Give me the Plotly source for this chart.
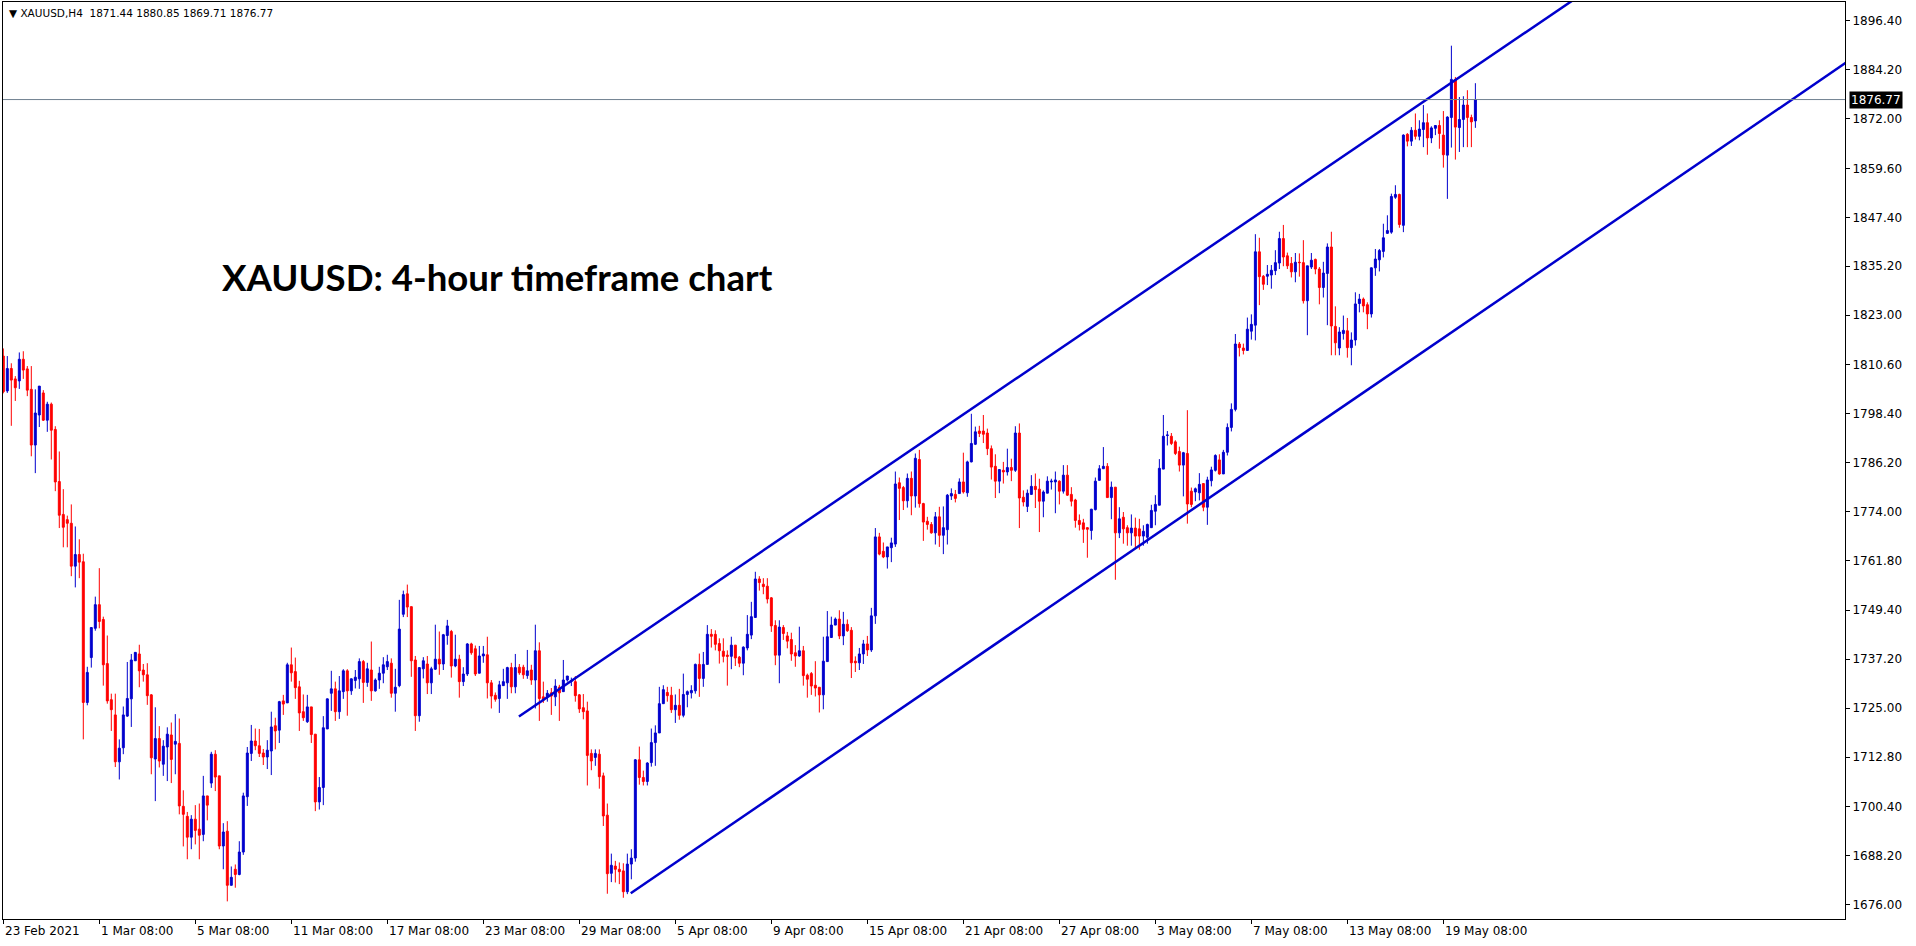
import plotly.graph_objects as go
import pandas as pd

# ---------------- data (XAUUSD H4 candles) ----------------
opens = [
1812.8,1804.1,1809.7,1807.1,1806.6,1812.0,1809.6,1804.5,1790.6,1798.1,
1803.6,1796.8,1800.8,1794.5,1781.5,1773.3,1772.0,1771.1,1760.4,1763.3,
1761.5,1726.4,1737.6,1744.9,1750.8,1747.1,1736.1,1727.1,1723.3,1711.6,
1715.1,1723.0,1727.3,1736.8,1738.5,1734.5,1733.3,1728.3,1712.3,1717.4,
1711.0,1715.3,1718.3,1716.0,1716.2,1700.5,1698.0,1692.8,1697.3,1694.8,
1693.5,1703.1,1706.3,1713.5,1708.1,1690.6,1694.3,1680.8,1684.8,1683.5,
1689.1,1702.9,1713.7,1716.8,1715.6,1713.8,1712.8,1714.3,1720.6,1719.5,
1726.8,1726.3,1735.8,1734.1,1730.3,1724.1,1721.6,1725.3,1718.5,1701.6,
1705.2,1719.8,1728.7,1729.8,1724.1,1729.1,1734.3,1729.3,1731.9,1732.3,
1736.6,1731.4,1734.5,1729.3,1732.0,1733.7,1735.3,1736.2,1728.7,1730.6,
1748.4,1753.5,1750.3,1737.0,1723.1,1734.8,1736.0,1731.3,1734.7,1737.2,
1736.0,1743.1,1744.1,1735.5,1737.2,1731.6,1733.5,1741.0,1739.8,1733.7,
1738.0,1738.3,1731.3,1728.2,1727.4,1730.6,1731.3,1735.1,1730.3,1735.2,
1735.2,1733.1,1734.5,1732.0,1739.3,1727.8,1727.8,1728.8,1727.8,1730.2,
1729.1,1732.0,1731.7,1731.6,1728.3,1725.1,1724.3,1713.7,1712.7,1713.5,
1708.1,1698.3,1683.8,1685.6,1684.8,1684.4,1679.2,1686.1,1687.6,1712.1,
1707.7,1706.7,1711.4,1716.4,1718.8,1726.1,1728.9,1728.2,1724.6,1725.7,
1723.2,1728.4,1728.8,1729.3,1735.9,1732.4,1735.9,1743.4,1743.4,1741.1,
1739.2,1738.2,1737.9,1740.7,1737.7,1736.2,1740.0,1743.2,1747.6,1757.2,
1755.9,1755.4,1752.5,1745.6,1738.2,1745.1,1743.0,1742.1,1738.8,1738.0,
1739.3,1733.2,1733.6,1730.7,1730.2,1728.3,1736.6,1742.6,1745.7,1747.2,
1743.0,1745.9,1744.4,1736.7,1736.3,1738.5,1741.0,1739.5,1748.0,1767.7,
1764.1,1762.7,1765.0,1765.9,1781.2,1780.0,1776.7,1782.3,1777.9,1787.0,
1776.0,1771.6,1770.8,1768.7,1772.7,1768.1,1769.5,1777.9,1778.3,1778.5,
1781.4,1778.7,1786.4,1790.8,1794.1,1794.1,1793.6,1789.7,1785.3,1781.6,
1784.3,1783.9,1785.0,1784.3,1793.6,1777.6,1775.3,1778.3,1780.3,1779.6,
1776.6,1778.6,1781.4,1781.4,1781.6,1779.1,1783.1,1778.3,1776.9,1771.8,
1771.2,1770.0,1769.3,1774.5,1781.8,1784.7,1785.3,1777.5,1780.1,1768.7,
1772.6,1770.0,1768.7,1769.9,1769.7,1767.9,1767.6,1770.0,1774.1,1775.6,
1784.6,1793.0,1792.8,1791.4,1789.0,1785.6,1788.5,1779.1,1778.9,1778.7,
1781.0,1775.1,1781.7,1784.3,1786.9,1783.4,1788.8,1795.0,1799.5,1815.8,
1814.8,1814.2,1819.0,1820.5,1838.8,1832.7,1832.7,1833.0,1834.1,1836.0,
1842.1,1837.8,1835.9,1833.8,1836.2,1836.1,1826.6,1835.0,1836.9,1834.5,
1829.9,1833.4,1840.0,1820.2,1814.8,1818.4,1819.1,1814.9,1816.8,1825.9,
1827.0,1825.6,1823.3,1834.8,1836.8,1838.9,1843.4,1843.7,1852.4,1853.1,
1845.4,1868.1,1866.4,1869.1,1867.6,1869.3,1871.0,1867.2,1869.6,1870.3,
1867.9,1862.9,1872.3,1881.8,1869.8,1871.8,1875.4,1872.3,1871.44]

highs = [
1814.7,1812.8,1811.0,1807.8,1813.7,1814.0,1810.3,1810.3,1804.5,1805.3,
1804.3,1801.4,1801.2,1795.3,1789.0,1779.6,1773.0,1775.8,1770.3,1767.1,
1763.5,1735.3,1745.1,1752.8,1759.9,1747.8,1743.1,1728.6,1728.6,1717.2,
1725.4,1736.5,1738.5,1738.9,1740.8,1736.0,1736.2,1728.5,1725.2,1720.5,
1717.0,1720.2,1721.4,1723.5,1722.4,1704.5,1699.1,1698.3,1700.8,1701.2,
1708.1,1703.1,1714.1,1714.5,1708.1,1696.3,1696.8,1685.5,1686.0,1691.8,
1703.9,1715.3,1720.8,1719.9,1719.8,1714.8,1717.0,1724.1,1722.6,1726.8,
1728.3,1736.3,1740.1,1737.6,1731.8,1728.4,1728.3,1725.3,1718.5,1707.8,
1723.0,1727.4,1734.3,1731.6,1733.0,1734.7,1734.7,1732.4,1734.5,1737.4,
1737.0,1736.3,1741.6,1732.4,1735.3,1737.7,1738.3,1737.4,1734.8,1752.0,
1754.3,1755.8,1750.3,1738.0,1735.1,1737.7,1738.0,1735.3,1745.8,1744.1,
1743.5,1747.0,1744.5,1743.3,1738.3,1735.2,1741.2,1741.3,1740.6,1740.5,
1740.5,1742.8,1732.0,1728.9,1731.8,1734.8,1735.3,1736.3,1738.5,1736.0,
1735.8,1739.5,1735.8,1745.8,1741.4,1731.6,1729.5,1730.0,1732.2,1730.8,
1737.0,1733.0,1732.6,1733.0,1728.5,1728.5,1726.6,1714.7,1714.7,1714.7,
1708.9,1701.2,1688.7,1686.9,1686.5,1686.3,1688.7,1689.8,1712.3,1715.4,
1709.4,1711.5,1719.9,1720.7,1730.3,1730.7,1730.3,1730.3,1728.4,1729.8,
1733.6,1729.4,1730.7,1736.1,1738.6,1739.0,1745.7,1744.7,1744.4,1742.4,
1742.4,1739.4,1742.8,1740.7,1738.0,1740.4,1748.2,1751.5,1759.0,1757.9,
1757.4,1757.4,1752.7,1746.9,1746.9,1745.7,1744.0,1743.8,1740.7,1745.3,
1740.5,1733.6,1734.0,1736.7,1730.2,1742.8,1749.2,1747.8,1747.6,1749.4,
1749.0,1747.1,1745.2,1737.9,1740.0,1742.0,1743.0,1750.0,1769.9,1768.7,
1766.3,1765.2,1767.5,1784.0,1782.5,1780.4,1783.5,1784.0,1788.5,1789.4,
1776.2,1772.7,1771.4,1773.9,1775.2,1775.3,1778.4,1779.8,1779.4,1782.3,
1788.7,1786.7,1798.4,1795.2,1795.4,1798.1,1794.7,1790.5,1788.3,1784.5,
1786.4,1789.7,1787.2,1795.3,1796.0,1779.3,1779.5,1783.1,1783.5,1782.2,
1779.3,1782.8,1782.2,1784.0,1781.8,1785.6,1785.6,1780.1,1777.2,1773.3,
1772.2,1770.1,1774.7,1782.5,1785.6,1790.1,1786.1,1781.5,1780.1,1775.1,
1773.9,1770.6,1773.3,1772.5,1772.2,1770.6,1771.0,1775.7,1778.1,1787.1,
1798.1,1794.1,1793.6,1791.8,1790.2,1788.9,1799.3,1780.0,1780.0,1783.6,
1781.0,1782.7,1785.2,1788.3,1788.3,1789.4,1796.0,1801.0,1818.3,1816.3,
1815.9,1822.4,1823.2,1843.2,1842.3,1833.0,1835.5,1835.5,1839.2,1843.8,
1845.5,1838.6,1837.5,1838.5,1838.4,1841.7,1835.3,1838.5,1837.1,1835.0,
1836.3,1840.9,1843.8,1825.2,1820.0,1822.9,1822.3,1818.7,1828.7,1828.3,
1827.4,1826.2,1834.9,1839.5,1839.5,1845.8,1847.9,1853.3,1855.4,1853.3,
1868.1,1868.4,1869.9,1873.3,1871.6,1875.4,1873.3,1870.1,1870.4,1871.6,
1873.9,1872.6,1890.2,1882.4,1877.4,1877.6,1879.1,1873.0,1880.85]

lows = [
1803.5,1803.6,1795.4,1801.6,1804.6,1807.1,1802.8,1787.8,1783.6,1795.1,
1796.6,1793.9,1787.0,1779.1,1769.9,1765.1,1765.1,1757.9,1755.1,1757.4,
1717.2,1725.7,1735.1,1744.3,1744.9,1730.6,1726.1,1719.3,1710.3,1707.2,
1713.5,1722.8,1720.3,1736.8,1730.2,1731.6,1725.8,1708.5,1701.8,1710.2,
1708.1,1706.8,1706.3,1708.5,1698.5,1690.5,1687.3,1689.8,1691.0,1687.3,
1691.8,1697.0,1705.1,1704.3,1689.8,1684.8,1676.8,1680.8,1680.2,1683.3,
1688.4,1700.6,1711.8,1714.5,1712.8,1710.8,1709.8,1708.3,1714.7,1716.3,
1723.3,1726.3,1731.6,1727.3,1719.3,1721.8,1721.3,1716.3,1699.3,1699.7,
1700.8,1719.8,1724.3,1721.8,1722.3,1727.3,1723.1,1728.3,1729.9,1729.8,
1726.3,1730.3,1726.8,1729.1,1729.8,1731.2,1734.5,1727.6,1724.1,1730.2,
1747.7,1747.7,1732.8,1719.3,1721.6,1732.4,1728.5,1728.5,1734.5,1733.3,
1734.5,1740.8,1732.6,1735.2,1727.6,1730.5,1733.0,1738.3,1733.0,1733.7,
1736.3,1727.4,1724.9,1726.6,1723.8,1730.6,1727.3,1728.7,1728.7,1733.3,
1732.3,1732.3,1730.8,1724.9,1721.8,1726.3,1726.6,1723.3,1725.5,1721.8,
1729.1,1731.6,1730.5,1726.6,1723.8,1722.2,1705.7,1709.5,1710.6,1704.9,
1695.6,1678.7,1681.6,1681.5,1681.1,1677.7,1678.6,1682.3,1686.7,1705.9,
1705.7,1705.7,1710.4,1710.6,1718.8,1726.1,1726.6,1723.8,1721.3,1722.1,
1722.7,1725.2,1727.4,1728.6,1727.8,1730.3,1735.9,1740.1,1739.4,1736.1,
1736.4,1730.6,1734.7,1735.5,1735.2,1733.2,1739.4,1742.2,1747.6,1754.3,
1753.4,1751.1,1744.0,1735.7,1731.2,1742.0,1739.9,1736.8,1735.3,1737.8,
1730.6,1727.6,1728.3,1727.9,1723.9,1724.7,1736.6,1742.6,1745.7,1742.2,
1740.7,1744.0,1732.5,1734.0,1734.5,1736.0,1738.0,1739.0,1746.0,1763.1,
1762.4,1759.8,1761.4,1765.2,1771.9,1774.4,1775.0,1773.1,1775.0,1775.0,
1766.7,1769.5,1768.5,1765.8,1765.2,1763.4,1765.8,1776.9,1776.3,1778.5,
1778.5,1777.7,1786.3,1790.6,1792.6,1791.1,1788.1,1782.0,1777.4,1778.6,
1781.0,1783.0,1781.6,1783.9,1769.9,1775.3,1773.9,1778.3,1774.9,1768.9,
1772.6,1778.6,1779.5,1773.6,1775.8,1778.5,1777.9,1775.3,1770.0,1769.3,
1766.2,1762.5,1767.0,1774.3,1781.8,1784.7,1777.5,1772.1,1757.0,1767.4,
1766.0,1765.5,1765.5,1765.0,1764.5,1765.5,1766.0,1770.0,1770.6,1775.6,
1784.6,1790.5,1790.6,1788.1,1784.0,1777.8,1771.0,1775.1,1776.6,1776.8,
1774.1,1770.7,1780.3,1784.0,1783.2,1783.4,1788.0,1794.0,1799.0,1812.7,
1813.2,1814.2,1816.9,1816.7,1825.5,1829.3,1830.5,1829.6,1833.0,1834.5,
1835.2,1834.5,1832.4,1831.2,1832.6,1825.9,1818.0,1834.5,1833.2,1825.7,
1827.4,1820.5,1813.0,1813.0,1813.0,1816.9,1812.4,1810.5,1815.4,1823.7,
1823.7,1819.5,1822.4,1832.8,1833.9,1837.4,1843.3,1843.3,1852.0,1844.8,
1843.7,1865.1,1865.2,1866.8,1866.6,1864.9,1863.0,1865.9,1867.9,1864.5,
1859.8,1852.0,1864.8,1861.8,1863.7,1864.9,1864.9,1864.9,1869.71]

closes = [
1803.9,1809.7,1806.8,1804.9,1812.0,1809.3,1804.3,1790.6,1798.6,1805.3,
1796.8,1800.8,1794.3,1781.4,1773.1,1770.1,1771.1,1760.4,1763.3,1761.4,
1726.4,1733.9,1745.1,1750.8,1746.6,1735.8,1726.8,1724.6,1711.6,1715.0,
1723.3,1727.4,1737.0,1738.9,1734.3,1733.3,1728.1,1712.6,1717.4,1711.8,
1715.5,1718.5,1712.2,1716.7,1700.6,1698.5,1692.8,1697.3,1694.5,1693.3,
1703.1,1700.8,1713.5,1707.8,1690.6,1694.1,1680.8,1682.8,1683.5,1689.1,
1703.1,1713.8,1716.8,1715.6,1713.7,1712.8,1714.5,1720.3,1719.3,1726.6,
1726.0,1735.8,1733.8,1730.1,1723.8,1722.6,1725.3,1718.4,1701.6,1705.2,
1720.1,1727.3,1729.8,1724.1,1729.3,1734.3,1729.3,1732.3,1732.7,1736.6,
1731.4,1734.8,1729.3,1732.0,1733.7,1735.8,1736.6,1728.7,1730.2,1744.7,
1753.3,1750.2,1736.8,1723.1,1735.1,1736.8,1731.3,1734.8,1737.2,1736.0,
1743.3,1745.5,1735.5,1737.2,1731.6,1733.5,1741.0,1738.8,1733.5,1738.0,
1738.5,1731.3,1728.0,1727.2,1730.8,1731.6,1735.1,1730.3,1735.1,1733.8,
1733.3,1734.3,1732.0,1739.3,1727.4,1727.0,1728.7,1728.0,1730.5,1728.8,
1732.0,1733.0,1731.8,1728.1,1724.8,1724.1,1713.2,1711.8,1713.7,1707.9,
1698.1,1683.7,1685.8,1684.8,1684.2,1679.2,1686.1,1687.6,1712.1,1707.7,
1706.7,1711.3,1716.4,1718.8,1726.1,1729.6,1728.1,1724.6,1725.7,1723.2,
1728.4,1729.1,1729.4,1735.9,1732.4,1735.9,1743.4,1742.9,1740.9,1739.3,
1737.9,1737.9,1740.7,1737.5,1736.2,1740.2,1743.4,1747.8,1757.2,1756.3,
1755.3,1752.2,1745.5,1738.2,1745.2,1743.6,1741.7,1738.5,1738.0,1739.3,
1733.1,1732.2,1730.5,1730.0,1728.3,1736.7,1742.8,1745.7,1747.2,1743.0,
1745.9,1744.3,1736.3,1736.3,1738.5,1741.0,1739.5,1748.0,1767.7,1763.4,
1762.7,1765.2,1766.2,1780.9,1779.8,1776.7,1782.3,1777.9,1787.3,1776.0,
1771.4,1770.8,1768.7,1772.7,1768.1,1770.0,1778.1,1778.5,1777.3,1781.4,
1778.9,1786.4,1791.0,1793.9,1793.5,1793.3,1789.7,1785.1,1781.6,1784.5,
1783.9,1785.0,1784.3,1793.6,1777.4,1776.4,1778.6,1780.3,1779.5,1776.6,
1778.9,1781.6,1781.6,1781.9,1779.1,1783.1,1778.1,1776.6,1771.8,1770.8,
1769.6,1769.6,1774.6,1781.6,1784.7,1785.3,1777.5,1780.1,1768.7,1772.2,
1769.7,1768.7,1769.9,1767.9,1767.9,1769.1,1770.8,1774.3,1775.8,1784.8,
1792.8,1793.1,1791.0,1788.5,1785.6,1788.7,1775.9,1775.8,1779.7,1780.8,
1775.1,1781.9,1784.4,1788.0,1783.4,1788.8,1795.0,1799.5,1815.8,1814.9,
1814.2,1819.5,1820.7,1838.8,1832.6,1830.7,1833.2,1834.2,1836.1,1842.1,
1837.5,1835.3,1833.8,1836.2,1836.1,1826.6,1835.3,1836.7,1834.5,1829.9,
1833.5,1840.0,1820.3,1816.1,1818.8,1819.2,1814.9,1816.8,1825.8,1827.0,
1825.3,1823.3,1834.8,1837.0,1839.1,1842.3,1844.1,1852.6,1853.1,1845.6,
1867.9,1866.4,1869.1,1867.6,1869.4,1871.0,1867.2,1869.7,1870.3,1868.3,
1863.0,1872.4,1881.8,1869.9,1871.8,1875.4,1872.3,1871.2,1876.77]

symbol = "XAUUSD"
period = "H4"
first_bar = "2021-02-23 08:00"
holidays = ["2021-04-02"]

price_ticks = [1896.40, 1884.20, 1872.00, 1859.60, 1847.40, 1835.20, 1823.00,
               1810.60, 1798.40, 1786.20, 1774.00, 1761.80, 1749.40, 1737.20,
               1725.00, 1712.80, 1700.40, 1688.20, 1676.00]

time_label_text = ["23 Feb 2021", "1 Mar 08:00", "5 Mar 08:00", "11 Mar 08:00",
                   "17 Mar 08:00", "23 Mar 08:00", "29 Mar 08:00", "5 Apr 08:00",
                   "9 Apr 08:00", "15 Apr 08:00", "21 Apr 08:00", "27 Apr 08:00",
                   "3 May 08:00", "7 May 08:00", "13 May 08:00", "19 May 08:00"]
time_label_at = ["2021-02-23 08:00", "2021-03-01 08:00", "2021-03-05 08:00",
                 "2021-03-11 08:00", "2021-03-17 08:00", "2021-03-23 08:00",
                 "2021-03-29 08:00", "2021-04-05 08:00", "2021-04-09 08:00",
                 "2021-04-15 08:00", "2021-04-21 08:00", "2021-04-27 08:00",
                 "2021-05-03 08:00", "2021-05-07 08:00", "2021-05-13 08:00",
                 "2021-05-19 08:00"]

# channel anchors (bar position, price)
upper_anchor_x = [128.9, 369.9]
upper_anchor_y = [1722.9, 1886.3]
lower_anchor_x = [156.85, 462.6]
lower_anchor_y = [1678.8, 1887.3]

title_text = "XAUUSD: 4-hour timeframe chart"

# ---------------- build ----------------
n = min(len(opens), len(highs), len(lows), len(closes))
opens, highs, lows, closes = opens[:n], highs[:n], lows[:n], closes[:n]

hol = {pd.Timestamp(h).date() for h in holidays}
times = []
t = pd.Timestamp(first_bar)
while len(times) < n:
    if t.weekday() < 5 and t.date() not in hol:
        times.append(t)
    t += pd.Timedelta(hours=4)
pos = {tt: i for i, tt in enumerate(times)}
xs = list(range(n))
label_idx = [pos.get(pd.Timestamp(s), 0) for s in time_label_at]

BLUE = "#0000CD"
RED = "#FF0000"
AXIS_FONT = dict(family="DejaVu Sans, Verdana, sans-serif", size=12, color="black")

fig = go.Figure()
fig.add_trace(go.Candlestick(
    x=xs, open=opens, high=highs, low=lows, close=closes,
    increasing=dict(line=dict(color=BLUE, width=1), fillcolor=BLUE),
    decreasing=dict(line=dict(color=RED, width=1), fillcolor=RED),
    whiskerwidth=0, showlegend=False, hoverinfo="skip"))

X_END = 480
def ray(ax, ay):
    slope = (ay[1] - ay[0]) / (ax[1] - ax[0])
    return [ax[0], X_END], [ay[0], ay[0] + slope * (X_END - ax[0])]

for ax_, ay_ in [(upper_anchor_x, upper_anchor_y), (lower_anchor_x, lower_anchor_y)]:
    rx, ry = ray(ax_, ay_)
    fig.add_trace(go.Scatter(x=rx, y=ry, mode="lines",
                             line=dict(color=BLUE, width=2.5),
                             showlegend=False, hoverinfo="skip"))

last = closes[-1]
fig.add_shape(type="line", xref="paper", x0=0, x1=1, yref="y", y0=last, y1=last,
              line=dict(color="#708090", width=1))

annotations = []
for txt, ix in zip(time_label_text, label_idx):
    annotations.append(dict(x=ix, xref="x", y=0, yref="paper", text=txt,
                            showarrow=False, xanchor="left", yanchor="top",
                            xshift=0, yshift=-3, font=AXIS_FONT))

annotations.append(dict(x=1, xref="paper", y=last, yref="y",
                        text=f"{last:.2f}", showarrow=False, xanchor="left",
                        yanchor="middle", xshift=4, bgcolor="black",
                        borderpad=1, font=dict(family=AXIS_FONT["family"], size=12, color="white")))

hdr = (f"\u25BC {symbol},{period}\u00a0\u00a0{opens[-1]:.2f} {highs[-1]:.2f} "
       f"{lows[-1]:.2f} {closes[-1]:.2f}")
annotations.append(dict(x=0, xref="paper", y=1, yref="paper", text=hdr,
                        showarrow=False, xanchor="left", yanchor="top",
                        xshift=4, yshift=-3,
                        font=dict(family=AXIS_FONT["family"], size=10.5, color="black")))

annotations.append(dict(x=54.2, xref="x", y=1832.5, yref="y", text=title_text,
                        showarrow=False, xanchor="left", yanchor="middle",
                        font=dict(family="Lato, Liberation Sans, sans-serif", size=36.6,
                                  color="black", weight="bold")))

fig.update_layout(
    width=1916, height=946,
    margin=dict(l=3, r=71, t=2, b=27),
    paper_bgcolor="white", plot_bgcolor="white",
    showlegend=False,
    annotations=annotations,
    xaxis=dict(range=[-0.075, 460.4], rangeslider=dict(visible=False),
               showgrid=False, zeroline=False,
               tickvals=label_idx, ticktext=[""] * len(label_idx),
               ticks="outside", ticklen=4, tickcolor="black",
               showline=True, linecolor="black", linewidth=1, mirror=True),
    yaxis=dict(side="right", range=[1672.4, 1901.1],
               tickvals=price_ticks, ticktext=[f"{v:.2f}" for v in price_ticks],
               ticks="outside", ticklen=4, tickcolor="black", tickfont=AXIS_FONT,
               showgrid=False, zeroline=False,
               showline=True, linecolor="black", linewidth=1, mirror=True),
)

fig.write_html("out.html",
               config={"displayModeBar": False},
               post_script="document.body.style.margin='0px';document.body.style.overflow='hidden';")
